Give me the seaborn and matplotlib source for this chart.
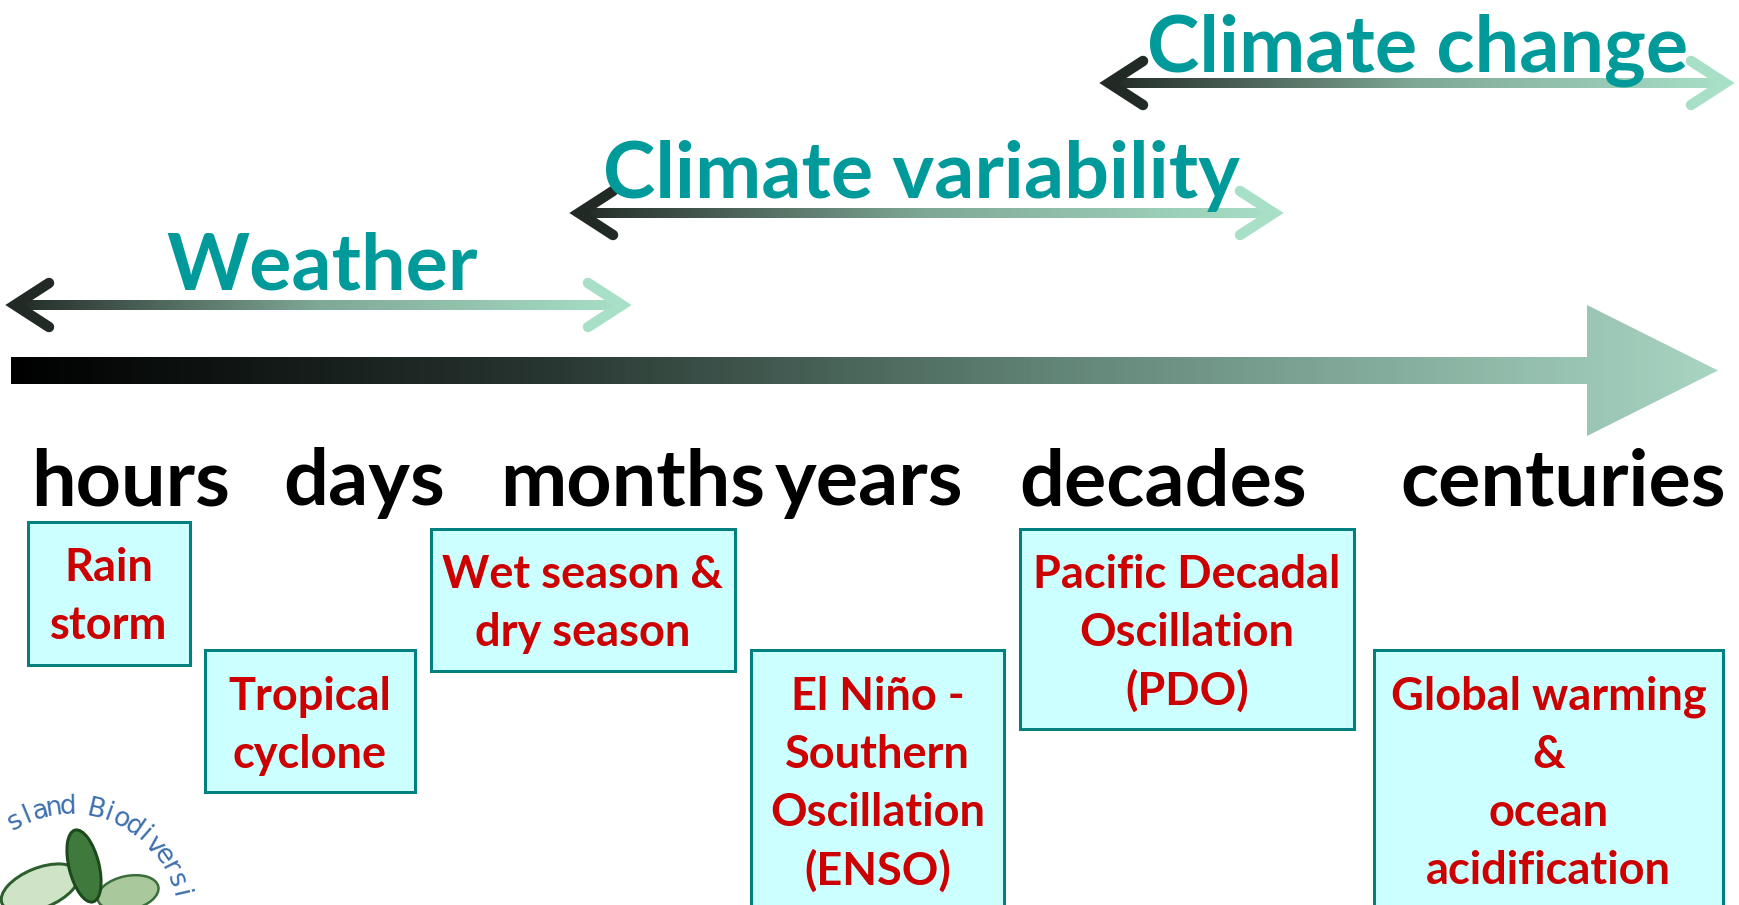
import numpy as np
import matplotlib
matplotlib.use('Agg')
import matplotlib.pyplot as plt
import seaborn as sns
from matplotlib.colors import LinearSegmentedColormap
from matplotlib.patches import Polygon, Rectangle, Ellipse

# time scales written under the long arrow
scale_labels = ['hours', 'days', 'months', 'years', 'decades', 'centuries']

# the three ranges drawn as double arrows
span_names = ['Weather', 'Climate variability', 'Climate change']

# example phenomena, one box each
box_lines = [
    ['Rain', 'storm'],
    ['Tropical', 'cyclone'],
    ['Wet season &', 'dry season'],
    ['El Niño -', 'Southern', 'Oscillation', '(ENSO)'],
    ['Pacific Decadal', 'Oscillation', '(PDO)'],
    ['Global warming', '&', 'ocean', 'acidification'],
]

# visible part of the logo's round text
logo_text = 'sland Biodiversi'

# ---- layout (pixels of the 1740 x 905 picture) ----
scale_x = [131, 364, 633, 869, 1163, 1563]
scale_y = 483

span_x0 = [11, 575, 1105]
span_x1 = [624, 1276, 1727]
span_y = [305, 213, 83]
span_tx = [322, 921, 1418]
span_ty = [267, 176, 50]

box_x0 = [28, 205, 431, 751, 1020, 1374]
box_x1 = [190, 415, 735, 1004, 1354, 1723]
box_y0 = [522, 650, 529, 650, 529, 650]
box_y1 = [665, 792, 671, 920, 729, 920]
box_ty = [568, 697, 575, 697, 575, 697]
line_step = 58

TEAL = '#009a9a'
RED = '#cc0000'

sns.set_theme(style='white')
plt.rcParams['font.family'] = ['Lato', 'DejaVu Sans']

fig = plt.figure(figsize=(17.4, 9.05), dpi=100)
ax = fig.add_axes([0, 0, 1, 1])
ax.set_axis_off()

px = 0.72  # points per pixel at dpi 100

# long time-scale arrow with gradient
main_cmap = LinearSegmentedColormap.from_list(
    'main', [(0, '#000000'), (0.3, '#26332e'), (0.6, '#5f8274'), (1, '#a8d4c2')])
bar_top, bar_bot = 357, 384
head_x0, head_x1 = 1587, 1718
head_top, head_bot = 305, 436
mid = (bar_top + bar_bot) / 2
arrow_poly = Polygon([(11, bar_top), (head_x0, bar_top), (head_x0, head_top),
                      (head_x1, mid), (head_x0, head_bot), (head_x0, bar_bot),
                      (11, bar_bot)], closed=True, transform=ax.transData,
                     facecolor='none', edgecolor='none')
grad = np.linspace(0, 1, 512).reshape(1, -1)
im = ax.imshow(grad, extent=(11, head_x1, head_bot, head_top), cmap=main_cmap,
               aspect='auto', interpolation='bilinear')
im.set_clip_path(arrow_poly)

# double arrows
span_cmap = LinearSegmentedColormap.from_list('span', ['#222a26', '#7fa896', '#a8dfc7'])
for name, x0, x1, y, tx, ty in zip(span_names, span_x0, span_x1, span_y, span_tx, span_ty):
    shaft = Rectangle((x0 + 6, y - 5), x1 - x0 - 12, 10, transform=ax.transData)
    g = ax.imshow(grad, extent=(x0, x1, y + 6, y - 6), cmap=span_cmap,
                  aspect='auto', interpolation='bilinear')
    g.set_clip_path(shaft)
    ax.plot([x0 + 38, x0 + 4, x0 + 38], [y - 22, y, y + 22], color='#222a26',
            lw=10.5 * px, solid_capstyle='round', solid_joinstyle='miter')
    ax.plot([x1 - 36, x1 - 2, x1 - 36], [y - 22, y, y + 22], color='#a8dfc7',
            lw=10.5 * px, solid_capstyle='round', solid_joinstyle='miter')
    ax.text(tx, ty, name, color=TEAL, fontsize=57, fontweight='bold',
            ha='center', va='center', zorder=5)

# time-scale labels
for lab, x in zip(scale_labels, scale_x):
    ax.text(x, scale_y, lab, color='black', fontsize=57, fontweight='bold',
            ha='center', va='center')

# phenomenon boxes
for lines, x0, x1, y0, y1, ty in zip(box_lines, box_x0, box_x1, box_y0, box_y1, box_ty):
    ax.add_patch(Rectangle((x0, y0), x1 - x0, y1 - y0, facecolor='#ccffff',
                           edgecolor='#008080', lw=3 * px, zorder=3))
    cx = (x0 + x1) / 2
    for i, ln in enumerate(lines):
        ax.text(cx, ty + i * line_step, ln, color=RED, fontsize=32.5,
                fontweight='bold', ha='center', va='center', zorder=4)

# small logo in the corner
logo_clip = Rectangle((0, 795), 197, 110, transform=ax.transData)
leaves = [
    Ellipse((40, 888), 82, 40, angle=-22, facecolor='#cfe3c6', edgecolor='#2d5e2d', lw=3 * px),
    Ellipse((128, 893), 62, 34, angle=-12, facecolor='#a9c99d', edgecolor='#3c6e3c', lw=2.5 * px),
    Ellipse((84, 866), 30, 74, angle=-14, facecolor='#3f7a3c', edgecolor='#1c4a1c', lw=3 * px),
]
for leaf in leaves:
    ax.add_patch(leaf)
    leaf.set_clip_path(logo_clip)
cx, cy, r = 70, 919, 112
theta = 119.5
for ch in logo_text:
    t = np.deg2rad(theta)
    lx, ly = cx + r * np.cos(t), cy - r * np.sin(t)
    ax.text(lx, ly, ch, color='#3d6fae', fontsize=19, family=['DejaVu Sans'],
            ha='center', va='center', rotation=theta - 90)
    theta -= 7.1

ax.set_xlim(0, 1740)
ax.set_ylim(905, 0)
sns.despine(left=True, bottom=True)
fig.savefig('out.png', dpi=100, facecolor='white')
